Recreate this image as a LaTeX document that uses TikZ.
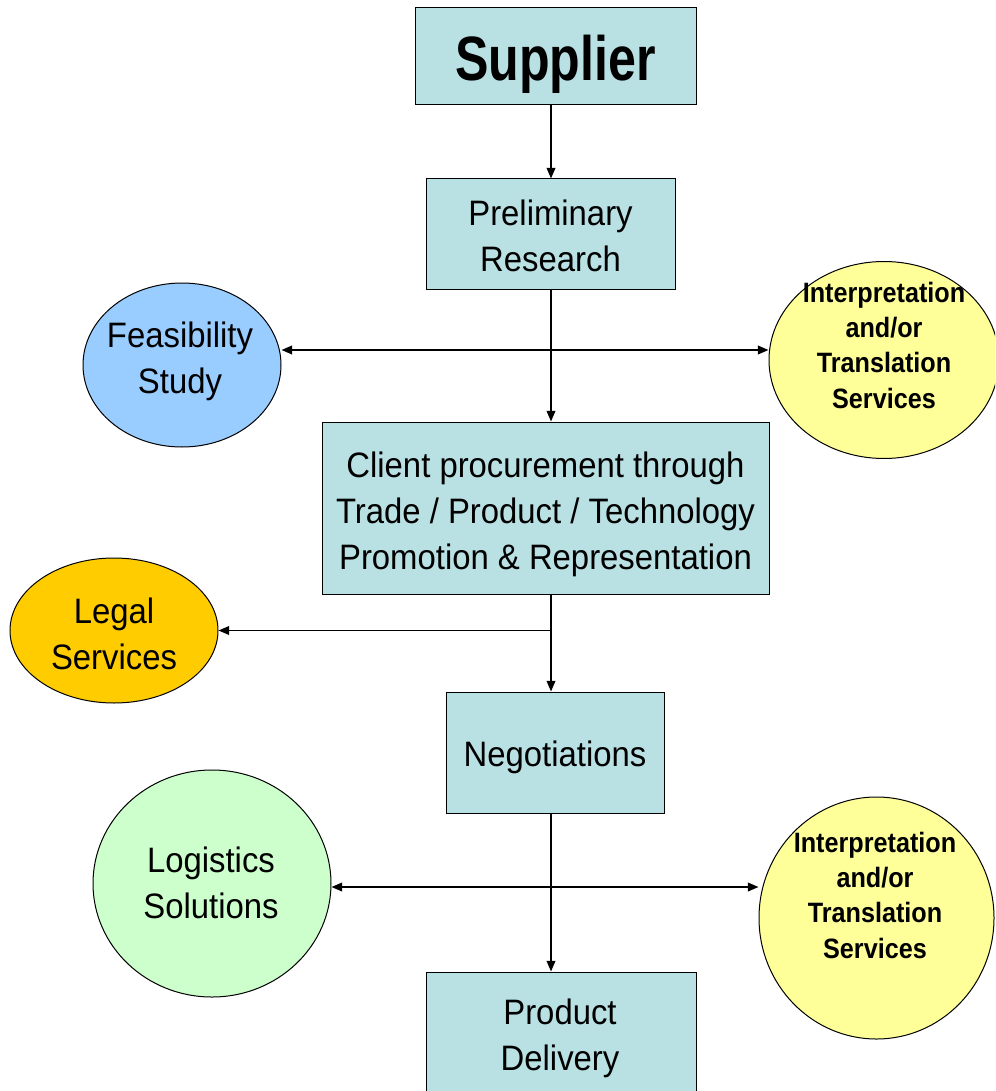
\documentclass[tikz,border=0pt]{standalone}
\usepackage{fontspec}
\setmainfont{Liberation Sans}[FakeStretch=0.93]
\newfontfamily\supfont{Liberation Sans}[FakeStretch=0.8]
\newfontfamily\servfont{Liberation Sans}[FakeStretch=0.9]
\usetikzlibrary{arrows.meta,shapes.geometric}

\definecolor{boxfill}{RGB}{185,224,227}
\definecolor{feasfill}{RGB}{153,204,255}
\definecolor{legalfill}{RGB}{255,204,0}
\definecolor{logifill}{RGB}{204,255,204}
\definecolor{servfill}{RGB}{255,255,153}

\tikzset{
  stepbox/.style={draw, fill=boxfill, line width=0.75pt, inner sep=0pt},
  blob/.style={draw, ellipse, line width=0.75pt, inner sep=0pt},
  plaintext/.style={align=center, inner sep=0pt, font=\fontsize{26.5pt}{34.5pt}\selectfont},
  servtext/.style={align=center, inner sep=0pt, font=\servfont\bfseries\fontsize{21pt}{26.5pt}\selectfont},
  link/.style={line width=1.25pt, >={Triangle[length=8pt,width=6.5pt]}},
}

\begin{document}
\begin{tikzpicture}[x=0.75pt,y=0.75pt,yscale=-1,xscale=1]
\useasboundingbox (0,0) rectangle (995,1091);
\clip (0,0) rectangle (995,1091);

%Shape: Rectangle
\node[stepbox, minimum width=210.75pt, minimum height=72.75pt] (supplier) at (555.5,56.5) {};
%Shape: Rectangle
\node[stepbox, minimum width=186.75pt, minimum height=82.5pt] (prelim) at (550.5,234) {};
%Shape: Rectangle
\node[stepbox, minimum width=335.25pt, minimum height=129pt] (client) at (545.5,508) {};
%Shape: Rectangle
\node[stepbox, minimum width=163.5pt, minimum height=90.75pt] (negot) at (555,752.5) {};
%Shape: Rectangle
\node[stepbox, minimum width=202.5pt, minimum height=94.5pt] (product) at (561,1035) {};

%Shape: Ellipse
\node[blob, fill=feasfill, minimum width=148.5pt, minimum height=123pt] (feas) at (182,365) {};
%Shape: Ellipse
\node[blob, fill=servfill, minimum width=172.5pt, minimum height=147.75pt] (interpA) at (884,360) {};
%Shape: Ellipse
\node[blob, fill=legalfill, minimum width=156pt, minimum height=108.75pt] (legal) at (114,630.5) {};
%Shape: Ellipse
\node[blob, fill=logifill, minimum width=178.5pt, minimum height=170.25pt] (logi) at (212,883.5) {};
%Shape: Ellipse
\node[blob, fill=servfill, minimum width=176.25pt, minimum height=181.5pt] (interpB) at (876.5,918) {};

% Text Node
\node[plaintext, font=\supfont\bfseries\fontsize{47pt}{50pt}\selectfont] (suppliertext) at (555.5,64) {Supplier};
% Text Node
\node[plaintext] (prelimtext) at (550.5,236) {Preliminary\\Research};
% Text Node
\node[plaintext] (clienttext) at (545.5,514)
  {Client procurement through\\Trade / Product / Technology\\Promotion \& Representation};
% Text Node
\node[plaintext] (negottext) at (555,757) {Negotiations};
% Text Node
\node[plaintext] (producttext) at (560,1038.5) {Product\\Delivery};
% Text Node
\node[plaintext] (feastext) at (180,361) {Feasibility\\Study};
% Text Node
\node[servtext] (interpAtext) at (884,345) {Interpretation\\and/or\\Translation\\Services};
% Text Node
\node[plaintext] (legaltext) at (114,634) {Legal\\Services};
% Text Node
\node[plaintext] (logitext) at (211,883) {Logistics\\Solutions};
% Text Node
\node[servtext] (interpBtext) at (875,895) {Interpretation\\and/or\\Translation\\Services};

\coordinate (spine) at (551,0);
\coordinate (hubA) at (551,350);
\coordinate (hubB) at (551,887);

%Straight Lines
\draw[link,->] (supplier.south -| spine) -- (prelim.north -| spine);
%Straight Lines
\draw[link,->] (prelim.south -| spine) -- (client.north -| spine);
%Straight Lines
\draw[link,<->] (feas.east |- hubA) -- (interpA.west |- hubA);
%Straight Lines
\draw[link,->] (client.south -| spine) -- (negot.north -| spine);
%Straight Lines
\draw[link,->] (spine |- legal.east) -- (legal.east);
%Straight Lines
\draw[link,->] (negot.south -| spine) -- (product.north -| spine);
%Straight Lines
\draw[link,<->] (logi.east |- hubB) -- (interpB.west |- hubB);

\end{tikzpicture}
\end{document}
